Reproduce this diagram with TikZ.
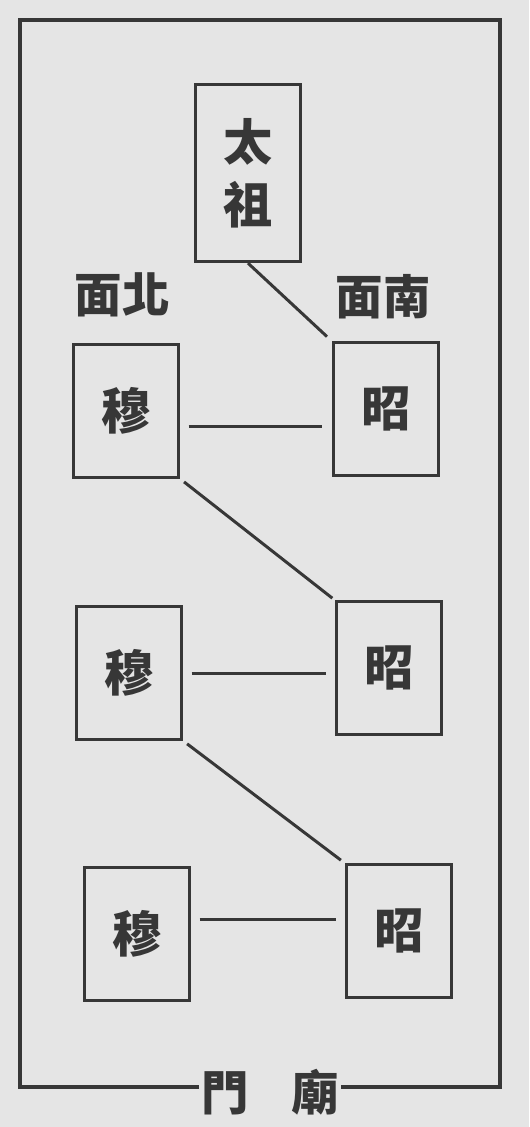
\documentclass[tikz,border=0pt]{standalone}
\usepackage{fontspec}
\newfontfamily\hanzi{Noto Sans CJK TC}
\definecolor{paper}{RGB}{229,229,229}
\definecolor{ink}{RGB}{55,55,55}
\tikzset{
  tablet/.style={draw=ink, line width=1.6pt, minimum width=2.1cm, minimum height=2.65cm,
    inner sep=0pt, font=\hanzi\bfseries\fontsize{28}{34}\selectfont, text=ink},
  label/.style={inner sep=1pt, font=\hanzi\bfseries\fontsize{27}{32}\selectfont, text=ink},
  link/.style={draw=ink, line width=1.7pt},
}
\begin{document}
\begin{tikzpicture}[x=0.02cm, y=-0.02cm]
            \fill[paper] (0, 0) rectangle (529, 1127);
            \useasboundingbox (0, 0) rectangle (529, 1127);

            % temple frame
            \coordinate (sw) at (20, 1087);
            \coordinate (nw) at (20, 20);
            \coordinate (ne) at (500, 20);
            \coordinate (se) at (500, 1087);
            \node[label] (gate) at (270, 1092) {門\hspace{0.85cm}廟};
            \draw[ink, line width=2.2pt] (gate.west |- sw) -- (sw) -- (nw) -- (ne) -- (se) -- (gate.east |- se);

            % founder
            \node[tablet, minimum height=3.55cm, align=center] (taizu) at (248, 173) {太\\[2pt]祖};
            \node[label] (north) at (122, 295) {面北};
            \node[label] (south) at (383, 297) {面南};

            % tablets
            \node[tablet] (mu1) at (126, 411) {穆};
            \node[tablet] (zhao1) at (386, 409) {昭};
            \node[tablet] (mu2) at (129, 673) {穆};
            \node[tablet] (zhao2) at (389, 668) {昭};
            \node[tablet] (mu3) at (137, 934) {穆};
            \node[tablet] (zhao3) at (399, 931) {昭};

            % links
            \draw[link, shorten >=4pt] (taizu.south) -- (zhao1.north west);
            \draw[link, shorten <=5pt, shorten >=6pt] ([yshift=-0.3cm]mu1.east) -- ([yshift=-0.3cm]mu1.east -| zhao1.west);
            \draw[link, shorten <=3pt, shorten >=2pt] (mu1.south east) -- (zhao2.north west);
            \draw[link, shorten <=5pt, shorten >=5pt] (mu2.east) -- (mu2.east -| zhao2.west);
            \draw[link, shorten <=3pt, shorten >=3pt] (mu2.south east) -- (zhao3.north west);
            \draw[link, shorten <=5pt, shorten >=5pt] ([yshift=0.3cm]mu3.east) -- ([yshift=0.3cm]mu3.east -| zhao3.west);
\end{tikzpicture}
\end{document}
